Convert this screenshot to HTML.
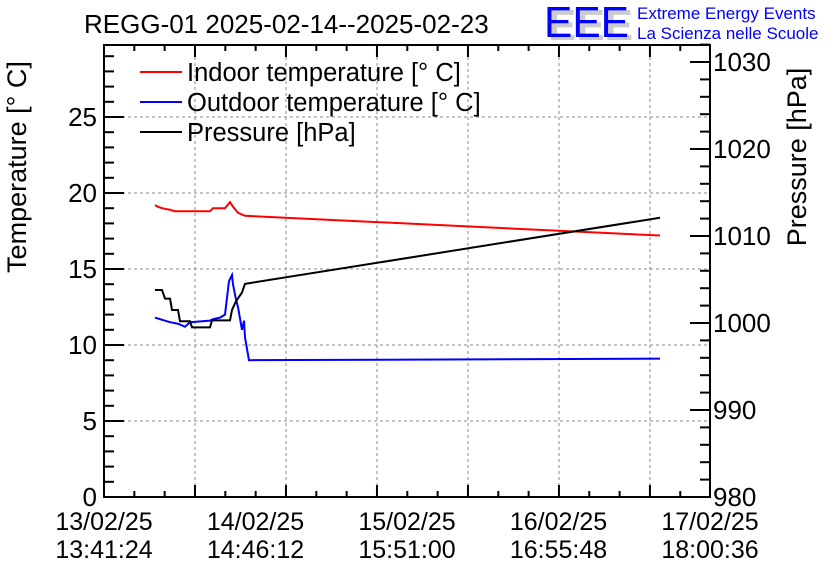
<!DOCTYPE html>
<html><head><meta charset="utf-8"><style>
body{margin:0;background:#fff}
svg text{font-family:"Liberation Sans",Arial,sans-serif}
</style></head><body>
<svg id="c" width="836" height="572" viewBox="0 0 836 572">
<rect width="836" height="572" fill="#fff"/>
<text x="84" y="33" font-size="26">REGG-01 2025-02-14--2025-02-23</text>
<g>
<text x="548" y="40" font-size="44" fill="#ccc" font-weight="bold" textLength="85" lengthAdjust="spacingAndGlyphs">EEE</text>
<text x="544" y="37" font-size="44" fill="#0000ff" textLength="85" lengthAdjust="spacingAndGlyphs">EEE</text>
<text x="637" y="19" font-size="17" fill="#0000ff">Extreme Energy Events</text>
<text x="637" y="39" font-size="17" fill="#0000ff">La Scienza nelle Scuole</text>
</g>
<g id="grid"></g>
<g id="axes"></g>
<g id="series"></g>
<text transform="translate(26,167) rotate(-90)" text-anchor="middle" font-size="27">Temperature [° C]</text>
<text transform="translate(806,157) rotate(-90)" text-anchor="middle" font-size="27">Pressure [hPa]</text>
<g>
<line x1="140" y1="72" x2="182" y2="72" stroke="#f00" stroke-width="2"/>
<text x="187" y="81" font-size="25.5">Indoor temperature [° C]</text>
<line x1="140" y1="102" x2="182" y2="102" stroke="#00f" stroke-width="2"/>
<text x="187" y="111" font-size="25.5">Outdoor temperature [° C]</text>
<line x1="140" y1="132" x2="182" y2="132" stroke="#000" stroke-width="2"/>
<text x="187" y="141" font-size="25.5">Pressure [hPa]</text>
</g>
</svg>
<script>
const xLabelDates=["13/02/25","14/02/25","15/02/25","16/02/25","17/02/25"];
const xLabelTimes=["13:41:24","14:46:12","15:51:00","16:55:48","18:00:36"];
const tempTicks=[0,5,10,15,20,25];
const presTicks=[980,990,1000,1010,1020,1030];
const indoorX=[8.44,8.9,9.6,10.9,11.75,17.55,18.04,20.03,20.86,21.35,22.18,23.34,92.04];
const indoorY=[19.2,19.1,19.0,18.9,18.8,18.8,19.0,19.0,19.4,19.1,18.7,18.5,17.2];
const outdoorX=[8.44,10.10,10.93,12.25,13.41,14.24,17.55,18.04,19.20,20.03,20.69,21.19,21.35,21.85,22.18,22.84,23.18,23.34,24.00,92.04];
const outdoorY=[11.8,11.6,11.5,11.4,11.2,11.5,11.6,11.7,11.8,12.0,14.2,14.6,14.0,13.0,12.5,11.0,11.6,10.5,9.0,9.1];
const presX=[8.44,9.60,10.10,10.93,11.26,12.25,12.58,14.24,14.57,17.55,17.88,20.86,21.19,21.85,22.84,23.34,92.04];
const presY=[1003.8,1003.8,1002.8,1002.8,1001.5,1001.5,1000.2,1000.2,999.5,999.5,1000.3,1000.3,1001.5,1002.5,1003.5,1004.5,1012.1];
const X0=104,X1=710,Y0=497,Y1=45,HMAX=100.32;
const xs=h=>X0+h/HMAX*(X1-X0);
const yT=t=>Y0-t*(Y0-117)/25;
const yP=p=>Y0-(p-980)*(Y0-62)/50;
const NS="http://www.w3.org/2000/svg";
function mk(tag,attrs,parent){const e=document.createElementNS(NS,tag);for(const k in attrs)e.setAttribute(k,attrs[k]);parent.appendChild(e);return e;}
const grid=document.getElementById('grid'),axes=document.getElementById('axes'),series=document.getElementById('series');
for(let k=1;k<7;k++){const x=X0+k*91;const l=mk('line',{x1:x,y1:Y1,x2:x,y2:Y0,stroke:'#888','stroke-dasharray':'3,3'},grid);

}
tempTicks.forEach(t=>{if(t>0){const l=mk('line',{x1:X0,y1:yT(t),x2:X1,y2:yT(t),stroke:'#888','stroke-dasharray':'3,3'},grid);

}});
const fr=mk('rect',{x:X0,y:Y1,width:X1-X0,height:Y0-Y1,fill:'none',stroke:'#000','stroke-width':2},axes);


for(let k=0;k<=20;k++){const x=X0+k*30.33;if(x>X1)break;const big=k%3==0;mk('line',{x1:x,y1:Y0,x2:x,y2:Y0-(big?12:6),stroke:'#000','stroke-width':2},axes);mk('line',{x1:x,y1:Y1,x2:x,y2:Y1+(big?12:6),stroke:'#000','stroke-width':2},axes);}
for(let t=0;t<=29;t++){const y=yT(t);mk('line',{x1:X0,y1:y,x2:X0+(t%5==0?20:10),y2:y,stroke:'#000','stroke-width':2},axes);}
tempTicks.forEach(t=>{const e=mk('text',{x:X0-7,y:yT(t)+9,'text-anchor':'end','font-size':26},axes);e.textContent=t;

});
for(let p=980;p<=1032;p+=2){const y=yP(p);mk('line',{x1:X1,y1:y,x2:X1-(p%10==0?20:10),y2:y,stroke:'#000','stroke-width':2},axes);}
presTicks.forEach(p=>{const e=mk('text',{x:X1+3,y:yP(p)+9,'font-size':26},axes);e.textContent=p;

});
xLabelDates.forEach((d,i)=>{const h=i*HMAX/4;const x=xs(h);
const a=mk('text',{x:x,y:530,'text-anchor':'middle','font-size':25},axes);a.textContent=d;


const b=mk('text',{x:x,y:558,'text-anchor':'middle','font-size':25},axes);b.textContent=xLabelTimes[i];

});
function line(X,Y,f,col,name){const p=mk('polyline',{points:X.map((x,i)=>xs(x)+','+f(Y[i])).join(' '),fill:'none',stroke:col,'stroke-width':2},series);

}
line(indoorX,indoorY,yT,'#f00','indoor-temperature-line');
line(outdoorX,outdoorY,yT,'#00f','outdoor-temperature-line');
line(presX,presY,yP,'#000','pressure-line');
</script>
</body></html>
